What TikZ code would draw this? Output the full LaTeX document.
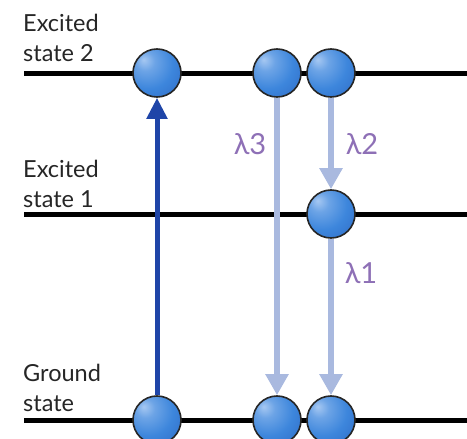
\documentclass[tikz,border=0pt]{standalone}
\usepackage{fontspec}
\setmainfont{Lato}
\usetikzlibrary{arrows.meta}
\definecolor{darkarrow}{HTML}{1F45A8}
\definecolor{lightarrow}{HTML}{A9B9DF}
\definecolor{lambdacol}{HTML}{8E70B6}
\definecolor{ballhl}{HTML}{A6C8F2}
\definecolor{ballmid}{HTML}{3D86DC}
\definecolor{balledge}{HTML}{2456B4}
\pgfdeclareradialshading{myball}{\pgfpoint{-14bp}{14bp}}{%
  color(0bp)=(ballhl); color(10bp)=(ballhl!45!ballmid); color(26bp)=(ballmid);
  color(50bp)=(balledge!70!ballmid); color(62bp)=(balledge); color(80bp)=(balledge)}
\begin{document}
\begin{tikzpicture}[x=1pt,y=-1pt,
  level/.style={line width=5pt},
  ballnode/.style={circle,minimum size=48pt,inner sep=0pt,draw=black!85,line width=1.6pt,shading=myball},
  statelabel/.style={anchor=north west,align=left,font=\fontsize{23.5}{29.5}\selectfont,text=black!85,inner sep=0pt},
  emit/.style={lightarrow,line width=6pt,-{Triangle[length=21pt,width=22pt]}},
  absorb/.style={darkarrow,line width=5pt,-{Triangle[length=21pt,width=20pt]}},
  lamlabel/.style={font=\fontsize{29}{29}\selectfont,text=lambdacol,inner sep=0pt}]
\useasboundingbox (0,0) rectangle (467,439);
% levels
\coordinate (l2a) at (24,73); \coordinate (l2b) at (467,73);
\coordinate (l1a) at (24,214); \coordinate (l1b) at (467,214);
\coordinate (l0a) at (24,420); \coordinate (l0b) at (467,420);
\draw[level] (l2a) -- (l2b);
\draw[level] (l1a) -- (l1b);
\draw[level] (l0a) -- (l0b);
% labels
\node[statelabel] (t2) at (23,14) {Excited\\state 2};
\node[statelabel] (t1) at (23,160) {Excited\\state 1};
\node[statelabel] (t0) at (23,364) {Ground\\state};
% balls
\node[ballnode] (a2) at (157,73) {};
\node[ballnode] (a0) at (157,420) {};
\node[ballnode] (b2) at (277,73) {};
\node[ballnode] (b0) at (277,420) {};
\node[ballnode] (c2) at (331,73) {};
\node[ballnode] (c1) at (331,214) {};
\node[ballnode] (c0) at (331,420) {};
% arrows
\draw[absorb] (a0.north) -- (a2.south);
\draw[emit] (b2.south) -- (b0.north);
\draw[emit] (c2.south) -- (c1.north);
\draw[emit] (c1.south) -- (c0.north);
% wavelength labels
\node[lamlabel] (l3) at (250,144) {λ3};
\node[lamlabel] (l2) at (362,144) {λ2};
\node[lamlabel] (l1) at (361,273) {λ1};
\end{tikzpicture}
\end{document}
